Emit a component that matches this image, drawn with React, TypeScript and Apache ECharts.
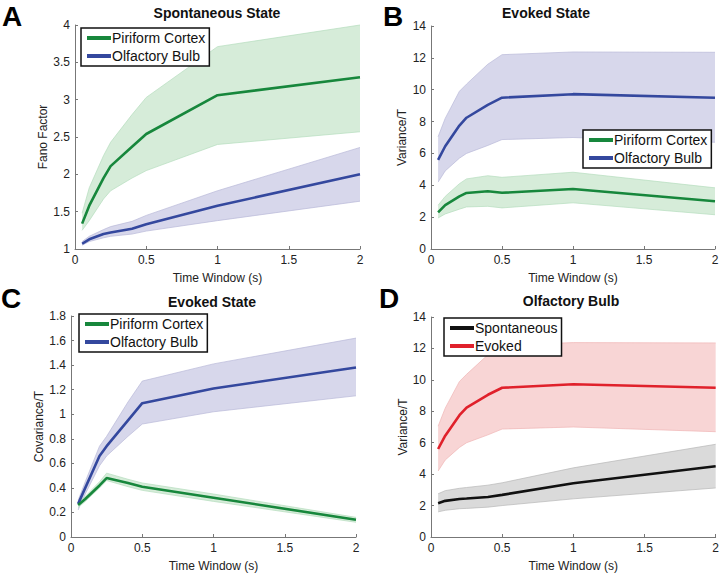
import React, { useEffect, useRef } from "react";
import * as echarts from "echarts";

// Time windows (s)
const timeWindows = [0.05, 0.1, 0.2, 0.25, 0.4, 0.5, 1, 2];

// Panel A: Spontaneous State, Fano factor
const aPcMean = [1.34, 1.58, 1.95, 2.11, 2.37, 2.54, 3.06, 3.3];
const aPcUpper = [1.48, 1.82, 2.25, 2.43, 2.8, 3.03, 3.71, 4.0];
const aPcLower = [1.25, 1.38, 1.67, 1.78, 1.95, 2.05, 2.4, 2.57];
const aObMean = [1.07, 1.13, 1.2, 1.22, 1.27, 1.33, 1.58, 2.0];
const aObUpper = [1.1, 1.17, 1.26, 1.3, 1.37, 1.45, 1.78, 2.36];
const aObLower = [1.05, 1.1, 1.15, 1.17, 1.2, 1.24, 1.38, 1.64];

// Panel B: Evoked State, Variance/T
const bObMean = [5.6, 6.45, 7.75, 8.24, 9.05, 9.5, 9.72, 9.5];
const bObUpper = [7.05, 8.2, 9.9, 10.35, 11.6, 12.2, 12.37, 12.35];
const bObLower = [4.2, 4.9, 5.7, 6.0, 6.5, 6.87, 7.0, 6.7];
const bPcMean = [2.3, 2.75, 3.3, 3.52, 3.63, 3.53, 3.77, 3.0];
const bPcUpper = [2.75, 3.3, 4.1, 4.4, 4.6, 4.5, 4.82, 3.84];
const bPcLower = [1.95, 2.2, 2.5, 2.64, 2.68, 2.58, 2.9, 2.15];

// Panel C: Evoked State, Covariance/T
const cObMean = [0.27, 0.4, 0.66, 0.74, 0.95, 1.09, 1.21, 1.38];
const cObUpper = [0.3, 0.45, 0.74, 0.82, 1.1, 1.27, 1.41, 1.62];
const cObLower = [0.22, 0.35, 0.58, 0.66, 0.82, 0.92, 1.02, 1.15];
const cPcMean = [0.26, 0.31, 0.42, 0.48, 0.44, 0.41, 0.32, 0.14];
const cPcUpper = [0.28, 0.33, 0.45, 0.52, 0.47, 0.44, 0.35, 0.16];
const cPcLower = [0.24, 0.29, 0.4, 0.46, 0.41, 0.38, 0.29, 0.12];

// Panel D: Olfactory Bulb, Variance/T
const dSpMean = [2.15, 2.3, 2.42, 2.45, 2.55, 2.68, 3.42, 4.5];
const dSpUpper = [2.75, 2.95, 3.1, 3.15, 3.3, 3.45, 4.4, 5.9];
const dSpLower = [1.6, 1.7, 1.8, 1.82, 1.9, 2.0, 2.43, 3.12];
const dEvMean = bObMean;
const dEvUpper = bObUpper;
const dEvLower = bObLower;

const xTicks = { min: 0, max: 2, interval: 0.5 };

const FONT = "Liberation Sans, Arial, Helvetica, sans-serif";
const GREEN = "#17873c";
const BLUE = "#34489e";
const RED = "#e0212b";
const BLACK = "#111111";
const GREEN_BAND = "#d6ecd9";
const BLUE_BAND = "#d7d7eb";
const RED_BAND = "#f8d5d5";
const GREY_BAND = "#dadada";

const zip = (ys: number[]) => timeWindows.map((x, i) => [x, ys[i]]);

function band(idx: number, lower: number[], upper: number[], fill: string, edge: string) {
  return {
    type: "custom",
    xAxisIndex: idx,
    yAxisIndex: idx,
    silent: true,
    z: 1,
    data: timeWindows.map((x, i) => [x, lower[i], upper[i]]),
    encode: { x: 0, y: [1, 2] },
    renderItem: (params: any, api: any) => {
      if (params.dataIndex !== 0) return null;
      const up = timeWindows.map((x, i) => api.coord([x, upper[i]]));
      const lo = timeWindows.map((x, i) => api.coord([x, lower[i]]));
      return {
        type: "group",
        children: [
          {
            type: "polygon",
            shape: { points: up.concat(lo.slice().reverse()) },
            style: { fill, stroke: null },
          },
          { type: "polyline", shape: { points: up }, style: { fill: null, stroke: edge, lineWidth: 0.7 } },
          { type: "polyline", shape: { points: lo }, style: { fill: null, stroke: edge, lineWidth: 0.7 } },
        ],
      };
    },
  };
}

function meanLine(name: string, idx: number, ys: number[], color: string) {
  return {
    type: "line",
    name,
    xAxisIndex: idx,
    yAxisIndex: idx,
    data: zip(ys),
    symbol: "none",
    color,
    lineStyle: { width: 2.6, color },
    z: 3,
  };
}

const grids = [
  { left: 75, top: 25, width: 285, height: 224 },
  { left: 431, top: 26, width: 284, height: 223 },
  { left: 71, top: 316, width: 285, height: 223 },
  { left: 431, top: 317, width: 285, height: 224 },
];

const yConf = [
  { min: 1, max: 4, interval: 0.5, name: "Fano Factor", gap: 25 },
  { min: 0, max: 14, interval: 2, name: "Variance/T", gap: 23 },
  { min: 0, max: 1.8, interval: 0.2, name: "Covariance/T", gap: 25 },
  { min: 0, max: 14, interval: 2, name: "Variance/T", gap: 22 },
];

function legendBox(left: number, top: number, names: string[]) {
  return {
    left,
    top,
    orient: "vertical",
    data: names,
    icon: "rect",
    itemWidth: 24,
    itemHeight: 4,
    itemGap: 4,
    selectedMode: false,
    backgroundColor: "#fff",
    borderColor: "#111",
    borderWidth: 1.5,
    borderRadius: 0,
    padding: [3, 4, 3, 6],
    textStyle: { fontFamily: FONT, fontSize: 14, color: "#111", padding: [0, 0, 0, -4] },
  };
}

export default function App() {
  const ref = useRef<HTMLDivElement>(null);
  useEffect(() => {
    if (!ref.current) return;
    const chart = echarts.init(ref.current, null, { renderer: "svg" });
    const axisLine = { show: true, lineStyle: { color: "#777", width: 1 } };
    const axisTick = { show: true, inside: true, length: 3, lineStyle: { color: "#777" } };
    const labelStyle = { color: "#222", fontSize: 12, fontFamily: FONT };
    const option: any = {
      animation: false,
      backgroundColor: "#ffffff",
      grid: grids,
      xAxis: grids.map((_, i) => ({
        gridIndex: i,
        type: "value",
        min: xTicks.min,
        max: xTicks.max,
        interval: xTicks.interval,
        axisLine,
        axisTick,
        splitLine: { show: false },
        axisLabel: { ...labelStyle, margin: 5 },
        name: "Time Window (s)",
        nameLocation: "middle",
        nameGap: 23,
        nameTextStyle: { ...labelStyle },
      })),
      yAxis: yConf.map((c, i) => ({
        gridIndex: i,
        type: "value",
        min: c.min,
        max: c.max,
        interval: c.interval,
        axisLine,
        axisTick,
        splitLine: { show: false },
        axisLabel: { ...labelStyle, margin: 5 },
        name: c.name,
        nameLocation: "middle",
        nameGap: c.gap,
        nameTextStyle: { ...labelStyle },
      })),
      legend: [
        legendBox(81, 28, ["Piriform Cortex", "Olfactory Bulb"]),
        legendBox(583, 130, ["Piriform Cortex", "Olfactory Bulb"]),
        legendBox(79, 314, ["Piriform Cortex", "Olfactory Bulb"]),
        legendBox(444, 318, ["Spontaneous", "Evoked"]),
      ],
      graphic: [
        ["A", 2, 16],
        ["B", 383, 16],
        ["C", 1, 298],
        ["D", 379, 298],
      ]
        .map(([t, x, y]) => ({
          type: "text",
          x,
          y,
          style: { text: t, font: `bold 28px ${FONT}`, fill: "#000", textVerticalAlign: "middle" },
          z: 10,
        }))
        .concat(
          [
            ["Spontaneous State", 217, 13],
            ["Evoked State", 546, 13],
            ["Evoked State", 212, 302],
            ["Olfactory Bulb", 571, 301],
          ].map(([t, x, y]) => ({
            type: "text",
            x,
            y,
            style: {
              text: t,
              font: `bold 14px ${FONT}`,
              fill: "#111",
              textAlign: "center",
              textVerticalAlign: "middle",
            },
            z: 10,
          })) as any
        ),
      series: [
        band(0, aPcLower, aPcUpper, GREEN_BAND, "#b5dcbd"),
        band(0, aObLower, aObUpper, BLUE_BAND, "#b9b9d8"),
        meanLine("Piriform Cortex", 0, aPcMean, GREEN),
        meanLine("Olfactory Bulb", 0, aObMean, BLUE),
        band(1, bObLower, bObUpper, BLUE_BAND, "#b9b9d8"),
        band(1, bPcLower, bPcUpper, GREEN_BAND, "#b5dcbd"),
        meanLine("Olfactory Bulb", 1, bObMean, BLUE),
        meanLine("Piriform Cortex", 1, bPcMean, GREEN),
        band(2, cObLower, cObUpper, BLUE_BAND, "#b9b9d8"),
        band(2, cPcLower, cPcUpper, GREEN_BAND, "#b5dcbd"),
        meanLine("Olfactory Bulb", 2, cObMean, BLUE),
        meanLine("Piriform Cortex", 2, cPcMean, GREEN),
        band(3, dEvLower, dEvUpper, RED_BAND, "#efb5b5"),
        band(3, dSpLower, dSpUpper, GREY_BAND, "#b8b8b8"),
        meanLine("Spontaneous", 3, dSpMean, BLACK),
        meanLine("Evoked", 3, dEvMean, RED),
      ],
    };
    chart.setOption(option);
    return () => chart.dispose();
  }, []);
  return (
    <div
      ref={ref}
      style={{ position: "fixed", left: 0, top: 0, width: 722, height: 573, background: "#fff" }}
    />
  );
}
